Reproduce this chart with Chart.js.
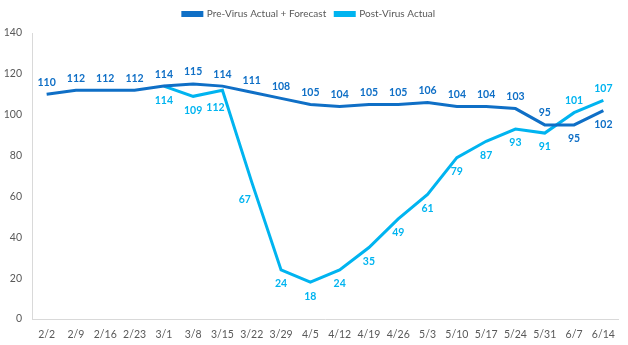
<!DOCTYPE html>
<html>
<head>
<meta charset="utf-8">
<script src="https://cdn.jsdelivr.net/npm/chart.js@4/dist/chart.umd.min.js"></script>
<style>
  html, body { margin: 0; padding: 0; background: #ffffff; }
  #wrap { width: 628px; height: 345px; position: relative; }
</style>
</head>
<body>
<div id="wrap"><canvas id="c"></canvas></div>
<script>
const categories = ['2/2','2/9','2/16','2/23','3/1','3/8','3/15','3/22','3/29','4/5','4/12','4/19','4/26','5/3','5/10','5/17','5/24','5/31','6/7','6/14'];
const preVirus = [110,112,112,112,114,115,114,111,108,105,104,105,105,106,104,104,103,95,95,102];
const postVirus = [null,null,null,null,114,109,112,67,24,18,24,35,49,61,79,87,93,91,101,107];
const preLabelPos = ['above','above','above','above','above','above','above','above','above','above','above','above','above','above','above','above','above','above','below','below'];
const postLabelPos = [null,null,null,null,'below','below','left','left','below','below','below','below','below','below','below','below','below','below','above','above'];
const yTicks = [0,20,40,60,80,100,120,140];

const DARK = '#0F6FC6';
const LIGHT = '#00B4F0';

const labelPlugin = {
  id: 'pointLabels',
  afterDatasetsDraw(chart) {
    const ctx = chart.ctx;
    const posSets = [preLabelPos, postLabelPos];
    chart.data.datasets.forEach((ds, di) => {
      const meta = chart.getDatasetMeta(di);
      ctx.save();
      ctx.font = 'bold 10.5px Lato';
      ctx.fillStyle = ds.borderColor;
      ctx.textAlign = 'center';
      ctx.textBaseline = 'middle';
      meta.data.forEach((pt, i) => {
        const v = ds.data[i];
        if (v === null || v === undefined) return;
        const pos = posSets[di][i];
        let x = pt.x, y = pt.y;
        if (pos === 'above') y -= 12;
        else if (pos === 'below') y += 14;
        else if (pos === 'left') { x -= 7; y += 17; }
        ctx.fillText(String(v), x, y);
      });
      ctx.restore();
    });
  }
};

const legendSpace = {
  id: 'legendSpace',
  beforeInit(chart) {
    const lg = chart.legend;
    if (!lg) return;
    const orig = lg.fit;
    lg.fit = function () { orig.call(this); this.height += 4; };
  }
};

new Chart(document.getElementById('c'), {
  type: 'line',
  data: {
    labels: categories,
    datasets: [
      { label: 'Pre-Virus Actual + Forecast', data: preVirus, borderColor: DARK, backgroundColor: DARK, borderWidth: 3, pointRadius: 0, tension: 0 },
      { label: 'Post-Virus Actual', data: postVirus, borderColor: LIGHT, backgroundColor: LIGHT, borderWidth: 3, pointRadius: 0, tension: 0, spanGaps: false }
    ]
  },
  options: {
    responsive: true,
    maintainAspectRatio: false,
    animation: false,
    layout: { padding: { left: 0, right: 10, top: 0, bottom: 0 } },
    plugins: {
      legend: {
        position: 'top',
        labels: { boxWidth: 19, boxHeight: 3, color: '#595959', font: { family: 'Lato', size: 10 }, padding: 9 }
      },
      tooltip: { enabled: false }
    },
    scales: {
      x: {
        offset: true,
        grid: { display: false, drawTicks: false },
        border: { display: true, color: '#D9D9D9', width: 1 },
        ticks: { color: '#595959', font: { family: 'Lato', size: 10.5 }, padding: 9, maxRotation: 0, autoSkip: false },
        afterFit(axis) { axis.height = 26; }
      },
      y: {
        min: 0, max: 140,
        afterBuildTicks(axis) { axis.ticks = yTicks.map(v => ({ value: v })); },
        grid: { display: false, drawTicks: false },
        border: { display: true, color: '#D9D9D9', width: 1 },
        ticks: { color: '#595959', font: { family: 'Lato', size: 10.5 }, padding: 10 },
        afterFit(axis) { axis.width = 32; }
      }
    }
  },
  plugins: [labelPlugin, legendSpace]
});
</script>
</body>
</html>
